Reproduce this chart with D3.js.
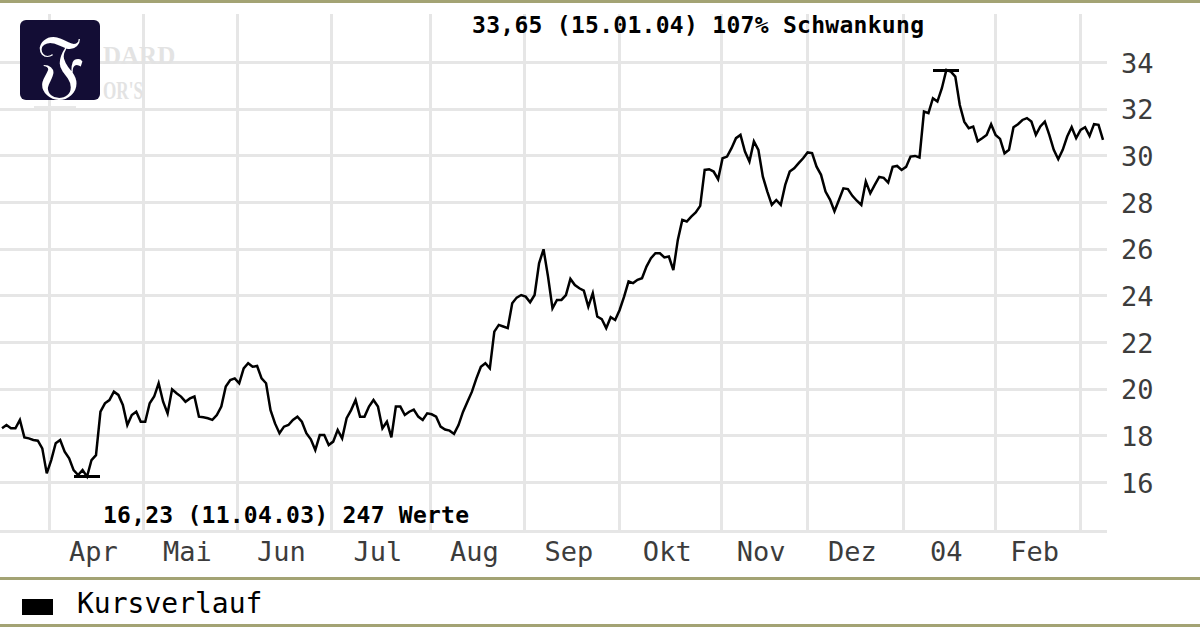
<!DOCTYPE html>
<html><head><meta charset="utf-8">
<script src="https://cdn.jsdelivr.net/npm/d3@7"></script>
<style>
html,body{margin:0;padding:0;background:#fff;}
svg{display:block;}
</style></head>
<body>
<svg id="chart" width="1200" height="627"></svg>
<script>
// ---- data ----
const values = [
18.30,18.44,18.30,18.30,18.66,17.91,17.87,17.80,17.77,17.44,
16.37,16.94,17.66,17.80,17.30,17.01,16.51,16.30,16.51,16.23,
16.94,17.15,19.01,19.37,19.51,19.87,19.73,19.30,18.44,18.87,
19.01,18.58,18.58,19.37,19.66,20.23,19.44,18.94,19.97,19.80,
19.66,19.44,19.58,19.66,18.80,18.77,18.73,18.66,18.87,19.23,
20.09,20.37,20.44,20.23,20.87,21.09,20.94,20.97,20.44,20.23,
19.08,18.51,18.09,18.37,18.44,18.66,18.80,18.58,18.09,17.83,
17.37,18.01,18.01,17.58,17.73,18.23,17.87,18.73,19.08,19.51,
18.80,18.80,19.23,19.51,19.23,18.30,18.58,17.91,19.23,19.23,
18.87,19.01,19.10,18.80,18.66,18.94,18.90,18.80,18.37,18.25,
18.20,18.06,18.44,19.00,19.44,19.87,20.44,20.94,21.09,20.87,
22.44,22.73,22.66,22.59,23.66,23.90,24.01,23.94,23.70,24.01,
25.37,25.97,24.80,23.44,23.80,23.80,24.01,24.70,24.44,24.30,
24.20,23.51,24.09,23.09,22.98,22.59,23.06,22.94,23.37,23.94,
24.59,24.52,24.66,24.73,25.23,25.59,25.80,25.80,25.62,25.66,
25.08,26.37,27.23,27.16,27.37,27.55,27.83,29.37,29.40,29.30,
28.97,29.87,29.94,30.30,30.73,30.87,30.16,29.73,30.59,30.23,
29.08,28.44,27.87,28.08,27.87,28.73,29.30,29.44,29.66,29.87,
30.12,30.09,29.51,29.16,28.44,28.10,27.60,28.08,28.58,28.55,
28.26,28.05,27.87,28.87,28.37,28.73,29.07,29.03,28.83,29.50,
29.54,29.37,29.50,29.94,29.97,29.90,31.87,31.80,32.44,32.30,
32.87,33.65,33.58,33.37,32.15,31.44,31.16,31.23,30.60,30.73,
30.87,31.33,30.87,30.70,30.08,30.23,31.20,31.33,31.51,31.59,
31.44,30.87,31.23,31.44,30.87,30.23,29.83,30.23,30.80,31.20,
30.73,31.08,31.20,30.83,31.33,31.30,30.66
];
// month boundaries expressed in trading-day index
const monthGrid = [10.5, 31.5, 52.5, 73.5, 95.6, 116.6, 137.8, 160.6, 179.8, 201.3, 221.8, 240.8];
const monthLabels = ["Apr","Mai","Jun","Jul","Aug","Sep","Okt","Nov","Dez","04","Feb"];
const yTicks = [16,18,20,22,24,26,28,30,32,34];
const maxText = "33,65 (15.01.04) 107% Schwankung";
const minText = "16,23 (11.04.03) 247 Werte";
const legendLabel = "Kursverlauf";

// ---- layout ----
const svg = d3.select("#chart");
const plotL = 0, plotR = 1107, plotT = 14, plotB = 531;
const olive = "#a3a374";
const gridCol = "#e6e6e6";
const mono = "'DejaVu Sans Mono', 'Liberation Mono', monospace";

const x = d3.scaleLinear().domain([0, values.length - 1]).range([2, 1103]);
const y = d3.scaleLinear().domain([13.9, 36.05]).range([plotB, plotT]);

svg.append("rect").attr("width",1200).attr("height",627).attr("fill","#fff");

// olive rules
svg.append("rect").attr("x",0).attr("y",0).attr("width",1200).attr("height",3).attr("fill",olive);
svg.append("rect").attr("x",0).attr("y",577).attr("width",1200).attr("height",3).attr("fill",olive);
svg.append("rect").attr("x",0).attr("y",624).attr("width",1200).attr("height",3).attr("fill",olive);

// horizontal grid
const gy = svg.append("g").attr("transform",`translate(${plotL},0)`)
  .call(d3.axisLeft(y).tickValues(yTicks).tickSize(-(plotR-plotL)).tickFormat(""));
gy.select(".domain").remove();
gy.selectAll("line").attr("stroke",gridCol).attr("stroke-width",3).attr("shape-rendering","crispEdges");

// vertical grid
const gx = svg.append("g").attr("transform",`translate(0,${plotB})`)
  .call(d3.axisBottom(x).tickValues(monthGrid).tickSize(-(plotB-plotT)).tickFormat(""));
gx.select(".domain").remove();
gx.selectAll("line").attr("stroke",gridCol).attr("stroke-width",3).attr("shape-rendering","crispEdges");

// bottom axis line
svg.append("line").attr("x1",plotL).attr("x2",plotR).attr("y1",plotB).attr("y2",plotB)
  .attr("stroke",gridCol).attr("stroke-width",3).attr("shape-rendering","crispEdges");

// watermark (visible part) + logo
const wm = svg.append("g").attr("font-family","'Liberation Serif','DejaVu Serif',serif")
  .attr("font-weight","bold").attr("fill","#e3e3e3").attr("font-size",25);
wm.append("text").attr("x",103).attr("y",64).text("DARD");
wm.append("text").attr("x",103).attr("y",99).attr("textLength",40).attr("lengthAdjust","spacingAndGlyphs").text("OR'S");
svg.append("line").attr("x1",34).attr("x2",76).attr("y1",107).attr("y2",107)
  .attr("stroke","#e8e8e8").attr("stroke-width",2);
svg.append("rect").attr("x",20).attr("y",20).attr("width",80).attr("height",80).attr("rx",6).attr("fill","#130d35");
svg.append("text").attr("x",60).attr("y",89).attr("text-anchor","middle")
  .attr("font-family","'DejaVu Serif','Liberation Serif',serif").attr("font-size",76)
  .attr("fill","#fff").text("\u{1D509}");

// y labels
const ya = svg.append("g").attr("transform",`translate(1121,0)`)
  .call(d3.axisRight(y).tickValues(yTicks).tickSize(0).tickPadding(0).tickFormat(d3.format("d")));
ya.select(".domain").remove();
ya.selectAll("text").attr("font-family",mono).attr("font-size",27).attr("fill","#3c3c3c")
  .attr("text-anchor","start").attr("dy","0.38em");

// month labels between grid lines
const labelPos = monthLabels.map((m,i)=>(monthGrid[i]+monthGrid[i+1])/2);
const xa = svg.append("g").attr("transform",`translate(-3,${plotB})`)
  .call(d3.axisBottom(x).tickValues(labelPos).tickSize(0).tickPadding(0).tickFormat((d,i)=>monthLabels[i]));
xa.select(".domain").remove();
xa.selectAll("text").attr("font-family",mono).attr("font-size",27).attr("fill","#3c3c3c")
  .attr("dy",null).attr("y",30);

// price line
const line = d3.line().x((d,i)=>x(i)).y(d=>y(d));
svg.append("path").datum(values).attr("d",line).attr("fill","none")
  .attr("stroke","#000").attr("stroke-width",2.5).attr("stroke-linejoin","miter");

// min / max markers
const maxV = d3.max(values), minV = d3.min(values);
const iMax = values.indexOf(maxV), iMin = values.indexOf(minV);
[[iMax,maxV],[iMin,minV]].forEach(([i,v])=>{
  svg.append("line").attr("x1",x(i)-13).attr("x2",x(i)+13).attr("y1",y(v)).attr("y2",y(v))
    .attr("stroke","#000").attr("stroke-width",3).attr("shape-rendering","crispEdges");
});

// annotations
svg.append("text").attr("x",472).attr("y",33).attr("font-family",mono).attr("font-size",23)
  .attr("font-weight","bold").attr("fill","#000").attr("textLength",452).attr("lengthAdjust","spacing").text(maxText);
svg.append("text").attr("x",103).attr("y",523).attr("font-family",mono).attr("font-size",23)
  .attr("font-weight","bold").attr("fill","#000").attr("textLength",366).attr("lengthAdjust","spacing").text(minText);

// legend
svg.append("rect").attr("x",22).attr("y",599).attr("width",31).attr("height",16).attr("fill","#000");
svg.append("text").attr("x",77).attr("y",613).attr("font-family",mono).attr("font-size",28)
  .attr("fill","#000").text(legendLabel);
</script>
</body></html>
